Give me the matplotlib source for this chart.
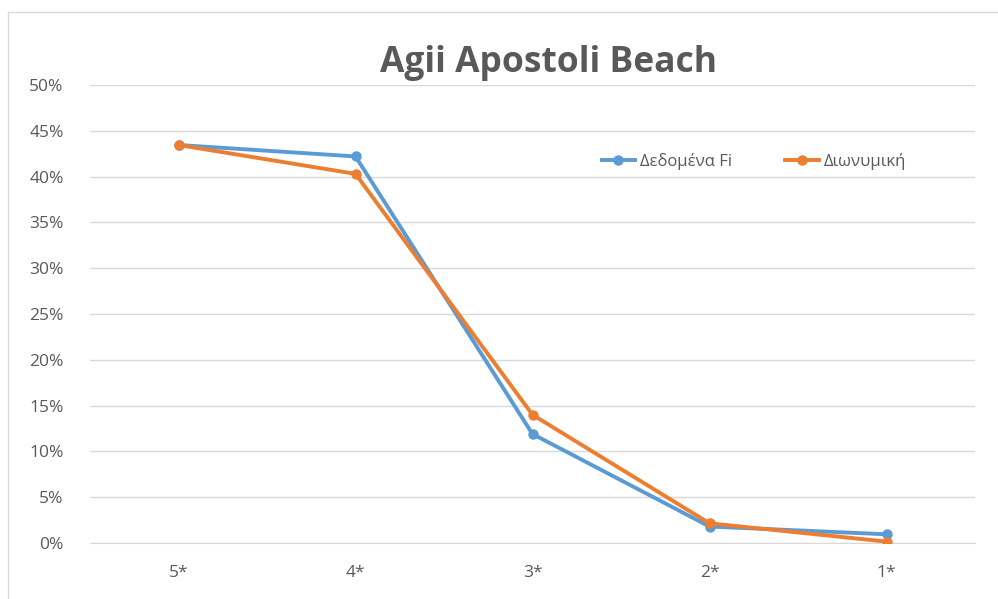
import matplotlib.pyplot as plt
from matplotlib.patches import Rectangle
from matplotlib.ticker import FuncFormatter

plt.rcParams['font.family'] = ['Open Sans', 'DejaVu Sans']

categories = ['5*', '4*', '3*', '2*', '1*']
fi_data = [43.45, 42.2, 11.9, 1.8, 0.95]
binomial = [43.45, 40.3, 14.0, 2.15, 0.15]

blue = '#5B9BD5'
orange = '#ED7D31'
gray_text = '#595959'

fig = plt.figure(figsize=(9.98, 5.99), dpi=100)
W, H = 998, 599

# chart border like the Excel frame
fig.patches.append(Rectangle((8 / W, -0.1), 1.2, 1 - 12 / H + 0.1, transform=fig.transFigure,
                             fill=False, edgecolor='#D9D9D9', linewidth=1))

ax = fig.add_axes([90 / W, 1 - 543 / H, 885 / W, 458 / H])
x = range(len(categories))
ax.plot(x, fi_data, color=blue, linewidth=2.8, marker='o', markersize=6.5,
        label='Δεδομένα Fi', solid_joinstyle='round', zorder=3)
ax.plot(x, binomial, color=orange, linewidth=2.8, marker='o', markersize=6.5,
        label='Διωνυμική', solid_joinstyle='round', zorder=4)

ax.set_xlim(-0.5, len(categories) - 0.5)
ax.set_ylim(0, 50)
ax.set_yticks(range(0, 51, 5))
ax.yaxis.set_major_formatter(FuncFormatter(lambda v, p: f'{int(v)}%'))
ax.set_xticks(list(x))
ax.set_xticklabels(categories)
ax.grid(axis='y', color='#D9D9D9', linewidth=1)
ax.set_axisbelow(True)
for s in ['top', 'right', 'left']:
    ax.spines[s].set_visible(False)
ax.spines['bottom'].set_color('#D9D9D9')
ax.tick_params(axis='both', length=0, labelsize=12.5, labelcolor=gray_text)
ax.tick_params(axis='y', pad=19)
ax.tick_params(axis='x', pad=16)

fig.text(549 / W, 1 - 63 / H, 'Agii Apostoli Beach', ha='center', va='center',
         fontsize=25.5, fontweight='bold', color=gray_text)

ax.legend(loc='center', bbox_to_anchor=(754 / W, 1 - 161 / H), bbox_transform=fig.transFigure,
          ncol=2, frameon=False, fontsize=12, labelcolor=gray_text, handlelength=2.0,
          handletextpad=0.3, columnspacing=3.2)

fig.savefig('out.png', dpi=100)
